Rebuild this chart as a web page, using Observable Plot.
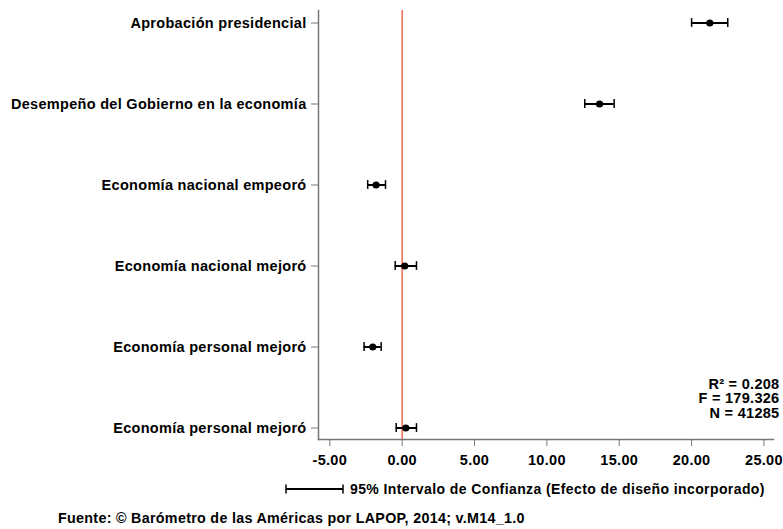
<!DOCTYPE html>
<html>
<head>
<meta charset="utf-8">
<script src="https://cdn.jsdelivr.net/npm/d3@7"></script>
<script src="https://cdn.jsdelivr.net/npm/@observablehq/plot@0.6"></script>
<style>
  body { margin: 0; background: #fff; font-family: "Liberation Sans", Arial, sans-serif; font-weight: bold; color: #000; }
  #chart svg { display: block; }
  .legend { height: 28px; padding-left: 285px; display: flex; align-items: center; font-size: 14px; letter-spacing: 0.4px; white-space: nowrap; }
  .legend svg { margin-right: 5px; display: block; }
  .caption { height: 32px; line-height: 30px; padding-left: 58px; font-size: 14.3px; letter-spacing: 0.3px; white-space: nowrap; }
</style>
</head>
<body>
<div id="chart"></div>
<div class="legend"><svg width="60" height="12"><line x1="1" y1="6" x2="58" y2="6" stroke="#000" stroke-width="2"></line><line x1="1" y1="1.5" x2="1" y2="10.5" stroke="#000" stroke-width="1.5"></line><line x1="58" y1="1.5" x2="58" y2="10.5" stroke="#000" stroke-width="1.5"></line></svg><span>95% Intervalo de Confianza (Efecto de diseño incorporado)</span></div>
<div class="caption">Fuente: © Barómetro de las Américas por LAPOP, 2014; v.M14_1.0</div>
<script>
const categories = [
  "Aprobación presidencial",
  "Desempeño del Gobierno en la economía",
  "Economía nacional empeoró",
  "Economía nacional mejoró",
  "Economía personal mejoró",
  "Economía personal mejoró"
];
const estimates = [21.26, 13.64, -1.80, 0.18, -2.03, 0.25];
const ciLow     = [20.00, 12.62, -2.38, -0.48, -2.63, -0.41];
const ciHigh    = [22.50, 14.65, -1.15, 0.99, -1.45, 0.99];
const xTicks = [-5, 0, 5, 10, 15, 20, 25];
const statLines = ["R² = 0.208", "F = 179.326", "N = 41285"];

const rows = categories.map((c, i) => ({key: String(i), label: c, est: estimates[i], lo: ciLow[i], hi: ciHigh[i]}));
const keys = rows.map(d => d.key);
const step = 81.2;

const chart = Plot.plot({
  width: 783,
  height: 475,
  marginLeft: 318,
  marginRight: 10,
  marginTop: 10,
  marginBottom: 36,
  style: {fontFamily: "'Liberation Sans', Arial, sans-serif", fontWeight: "bold", fontSize: "14.5px", letterSpacing: "0.3px", color: "#000", background: "#fff"},
  x: {domain: [-5.78, 25.66]},
  y: {type: "band", domain: keys, range: [22 - step / 2, 428 + step / 2], padding: 0},
  marks: [
    Plot.ruleX([0], {stroke: "#ee6a4c", strokeWidth: 1.5}),
    Plot.frame({anchor: "left", stroke: "#777", strokeWidth: 1.5}),
    Plot.frame({anchor: "bottom", stroke: "#777", strokeWidth: 1.5}),
    Plot.axisX({ticks: xTicks, tickFormat: d => d.toFixed(2), tickSize: 7, tickPadding: 8, stroke: "#777", fill: "#000", label: null}),
    Plot.axisY({tickSize: 7, tickPadding: 5, tickFormat: k => categories[+k], stroke: "#777", fill: "#000", label: null}),
    Plot.ruleY(rows, {y: "key", x1: "lo", x2: "hi", stroke: "#000", strokeWidth: 2}),
    Plot.tickX(rows, {y: "key", x: "lo", stroke: "#000", strokeWidth: 1.5, insetTop: (step - 9) / 2, insetBottom: (step - 9) / 2}),
    Plot.tickX(rows, {y: "key", x: "hi", stroke: "#000", strokeWidth: 1.5, insetTop: (step - 9) / 2, insetBottom: (step - 9) / 2}),
    Plot.dot(rows, {y: "key", x: "est", r: 3.6, fill: "#000"}),
    Plot.text([statLines.join("\n")], {frameAnchor: "bottom-right", lineAnchor: "bottom", textAnchor: "end", dx: 6, dy: -22, lineHeight: 1.0, fill: "#000", fontSize: 14.5})
  ]
});
document.getElementById("chart").appendChild(chart);
</script>
</body>
</html>
